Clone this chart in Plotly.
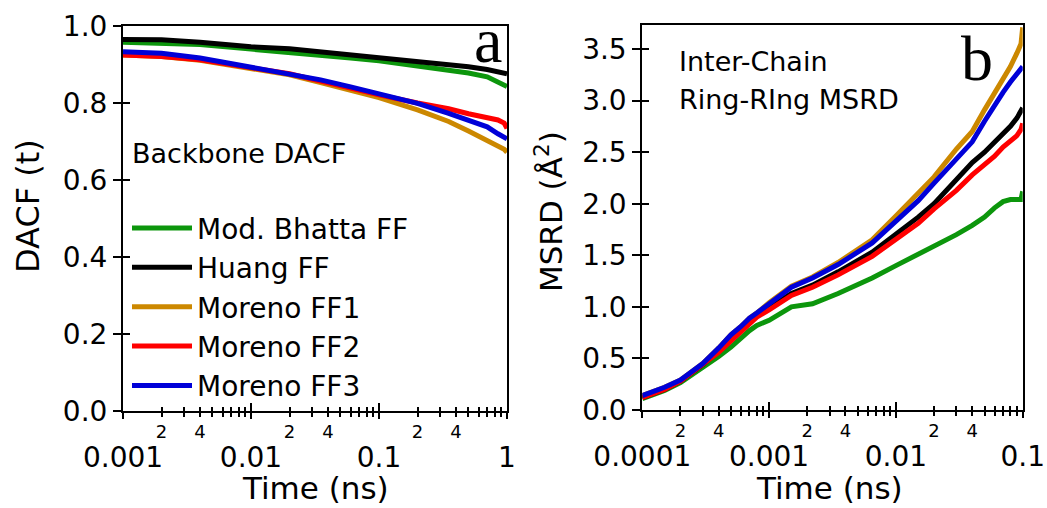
import plotly.graph_objects as go

# ---------------- data ----------------
series_names = ["Mod. Bhatta FF", "Huang FF", "Moreno FF1", "Moreno FF2", "Moreno FF3"]
series_colors = ["#0c960c", "#000000", "#cc8800", "#ff0000", "#0000d8"]

# Panel a: backbone DACF vs time (ns)
time_a = [0.001, 0.002, 0.004, 0.01, 0.02, 0.035, 0.06, 0.1, 0.2, 0.35, 0.5, 0.7, 0.85, 0.95, 1.0]
dacf_bhatta = [0.958, 0.956, 0.952, 0.940, 0.932, 0.925, 0.917, 0.910, 0.897, 0.887, 0.878, 0.868, 0.855, 0.848, 0.843]
dacf_huang  = [0.965, 0.964, 0.958, 0.946, 0.941, 0.933, 0.925, 0.918, 0.908, 0.900, 0.894, 0.887, 0.882, 0.879, 0.876]
dacf_ff1    = [0.925, 0.921, 0.911, 0.890, 0.873, 0.853, 0.832, 0.814, 0.782, 0.752, 0.727, 0.704, 0.689, 0.680, 0.672]
dacf_ff2    = [0.925, 0.921, 0.912, 0.892, 0.876, 0.857, 0.838, 0.821, 0.800, 0.785, 0.772, 0.760, 0.756, 0.748, 0.734]
dacf_ff3    = [0.933, 0.929, 0.917, 0.894, 0.877, 0.860, 0.842, 0.825, 0.799, 0.773, 0.755, 0.738, 0.720, 0.712, 0.707]

# Panel b: inter-chain ring-ring MSRD vs time (ns)
time_b = [1e-4, 1.5e-4, 2e-4, 3e-4, 4e-4, 5e-4, 6e-4, 7e-4, 8e-4, 1e-3, 1.5e-3, 2.2e-3, 3.5e-3,
          6.5e-3, 1e-2, 1.5e-2, 2e-2, 3e-2, 4e-2, 5e-2, 6e-2, 7e-2, 8e-2, 9e-2, 9.7e-2, 1e-1]
msrd_bhatta = [0.11, 0.19, 0.265, 0.41, 0.52, 0.61, 0.70, 0.77, 0.82, 0.87, 1.00, 1.03, 1.13,
               1.28, 1.40, 1.51, 1.585, 1.70, 1.79, 1.87, 1.96, 2.02, 2.04, 2.04, 2.04, 2.12]
msrd_huang  = [0.12, 0.20, 0.28, 0.44, 0.57, 0.69, 0.77, 0.85, 0.91, 0.99, 1.13, 1.21, 1.34,
               1.53, 1.70, 1.87, 2.00, 2.23, 2.40, 2.50, 2.60, 2.67, 2.75, 2.83, 2.90, 2.93]
msrd_ff1    = [0.14, 0.22, 0.29, 0.45, 0.60, 0.73, 0.81, 0.89, 0.94, 1.04, 1.20, 1.29, 1.43,
               1.65, 1.88, 2.11, 2.26, 2.53, 2.70, 2.91, 3.08, 3.20, 3.33, 3.46, 3.55, 3.71]
msrd_ff2    = [0.12, 0.20, 0.28, 0.44, 0.56, 0.67, 0.76, 0.85, 0.90, 0.97, 1.11, 1.19, 1.31,
               1.49, 1.66, 1.81, 1.95, 2.13, 2.28, 2.38, 2.46, 2.55, 2.61, 2.66, 2.72, 2.78]
msrd_ff3    = [0.14, 0.22, 0.29, 0.45, 0.60, 0.73, 0.81, 0.89, 0.94, 1.03, 1.19, 1.28, 1.41,
               1.62, 1.83, 2.03, 2.20, 2.44, 2.60, 2.80, 2.96, 3.08, 3.18, 3.25, 3.31, 3.33]

dacf_all = [dacf_bhatta, dacf_huang, dacf_ff1, dacf_ff2, dacf_ff3]
msrd_all = [msrd_bhatta, msrd_huang, msrd_ff1, msrd_ff2, msrd_ff3]

# tick labels
a_major = [0.001, 0.01, 0.1, 1]
a_major_text = ["0.001", "0.01", "0.1", "1"]
b_major = [0.0001, 0.001, 0.01, 0.1]
b_major_text = ["0.0001", "0.001", "0.01", "0.1"]
labelled_mult = [2, 4]
other_mult = [3, 5, 6, 7, 8, 9]
a_yticks = [0.0, 0.2, 0.4, 0.6, 0.8, 1.0]
a_ytext = ["0.0", "0.2", "0.4", "0.6", "0.8", "1.0"]
b_yticks = [0.0, 0.5, 1.0, 1.5, 2.0, 2.5, 3.0, 3.5]
b_ytext = ["0.0", "0.5", "1.0", "1.5", "2.0", "2.5", "3.0", "3.5"]


def minor_ticks(decades, mults):
    vals, txt = [], []
    for d in decades[:-1]:
        for m in mults:
            vals.append(d * m)
            txt.append(str(m))
    return vals, txt


a_lab, a_lab_text = minor_ticks(a_major, labelled_mult)
a_oth, _ = minor_ticks(a_major, other_mult)
b_lab, b_lab_text = minor_ticks(b_major, labelled_mult)
b_oth, _ = minor_ticks(b_major, other_mult)

# ---------------- figure ----------------
FONT = "DejaVu Sans"
LW = 5
fig = go.Figure()

for i, (name, col) in enumerate(zip(series_names, series_colors)):
    fig.add_trace(go.Scatter(x=time_a, y=dacf_all[i], mode="lines", name=name,
                             line=dict(color=col, width=LW), legendgroup=f"g{i}",
                             xaxis="x", yaxis="y"))
for i, (name, col) in enumerate(zip(series_names, series_colors)):
    fig.add_trace(go.Scatter(x=time_b, y=msrd_all[i], mode="lines", name=name,
                             line=dict(color=col, width=LW), legendgroup=f"g{i}",
                             showlegend=False, xaxis="x2", yaxis="y2"))
# empty traces so that the overlay (crossing-tick) axes get drawn
for xa, ya in [("x3", "y3"), ("x4", "y4"), ("x5", "y3"), ("x6", "y4")]:
    fig.add_trace(go.Scatter(x=[], y=[], xaxis=xa, yaxis=ya, showlegend=False,
                             hoverinfo="skip"))

xa_dom = [123 / 1047, 507 / 1047]
xb_dom = [642.3 / 1047, 1022.7 / 1047]
ya_dom = [1 - 411 / 508, 1 - 26 / 508]
yb_dom = [1 - 410 / 508, 1 - 25.3 / 508]

common_x = dict(type="log", showgrid=False, zeroline=False, showline=True, linecolor="black",
                linewidth=2, mirror=True, ticks="outside", ticklen=6, tickwidth=2,
                tickcolor="black", tickfont=dict(family=FONT, size=28, color="black"),
                ticklabelstandoff=14, automargin=False)
common_y = dict(showgrid=False, zeroline=False, showline=True, linecolor="black",
                linewidth=2, mirror=True, ticks="outside", ticklen=8, tickwidth=2,
                tickcolor="black", tickfont=dict(family=FONT, size=28, color="black"),
                automargin=False)

overlay_x = dict(type="log", showgrid=False, zeroline=False, showline=False,
                 ticks="inside", ticklen=4, tickwidth=1.5, tickcolor="black",
                 tickfont=dict(family=FONT, size=18, color="black"), automargin=False,
                 ticklabelstandoff=8)
overlay_y = dict(showgrid=False, zeroline=False, showline=False, ticks="inside",
                 ticklen=7, tickwidth=2, tickcolor="black", showticklabels=False,
                 automargin=False)
minor_out = dict(ticks="outside", ticklen=4, tickwidth=1.5, tickcolor="black")

fig.update_layout(
    width=1047, height=508, margin=dict(l=0, r=0, t=0, b=0),
    paper_bgcolor="white", plot_bgcolor="white",
    # panel a
    xaxis=dict(common_x, domain=xa_dom, anchor="y", range=[-3, 0],
               tickvals=a_major, ticktext=a_major_text,
               minor=dict(minor_out, tickmode="array", tickvals=a_lab + a_oth)),
    xaxis3=dict(overlay_x, overlaying="x", anchor="y", range=[-3, 0],
                tickvals=a_lab, ticktext=a_lab_text,
                minor=dict(tickmode="array", tickvals=a_oth, ticks="inside", ticklen=4,
                           tickwidth=1.5, tickcolor="black")),
    xaxis5=dict(overlay_x, overlaying="x", anchor="y", range=[-3, 0],
                tickvals=a_major, ticklen=8, tickwidth=2, showticklabels=False),
    yaxis=dict(common_y, domain=ya_dom, anchor="x", range=[0, 1],
               tickvals=a_yticks, ticktext=a_ytext),
    yaxis3=dict(overlay_y, overlaying="y", anchor="x", range=[0, 1], tickvals=a_yticks),
    # panel b
    xaxis2=dict(common_x, domain=xb_dom, anchor="y2", range=[-4, -1],
                tickvals=b_major, ticktext=b_major_text,
                minor=dict(minor_out, tickmode="array", tickvals=b_lab + b_oth)),
    xaxis4=dict(overlay_x, overlaying="x2", anchor="y2", range=[-4, -1],
                tickvals=b_lab, ticktext=b_lab_text,
                minor=dict(tickmode="array", tickvals=b_oth, ticks="inside", ticklen=4,
                           tickwidth=1.5, tickcolor="black")),
    xaxis6=dict(overlay_x, overlaying="x2", anchor="y2", range=[-4, -1],
                tickvals=b_major, ticklen=8, tickwidth=2, showticklabels=False),
    yaxis2=dict(common_y, domain=yb_dom, anchor="x2", range=[0, 3.73],
                tickvals=b_yticks, ticktext=b_ytext),
    yaxis4=dict(overlay_y, overlaying="y2", anchor="x2", range=[0, 3.73], tickvals=b_yticks),
    legend=dict(x=0.1213, y=0.60, xanchor="left", yanchor="top", bgcolor="rgba(0,0,0,0)",
                font=dict(family=FONT, size=28, color="black"), itemwidth=60,
                tracegroupgap=0),
    showlegend=True,
)

ann_font = dict(family=FONT, size=27, color="black")
title_font = dict(family=FONT, size=31, color="black")
# axis titles
fig.add_annotation(text="Time (ns)", xref="paper", yref="paper", x=315 / 1047, y=0.0,
                   xanchor="center", yanchor="bottom", showarrow=False, font=title_font)
fig.add_annotation(text="Time (ns)", xref="paper", yref="paper", x=829 / 1047, y=0.0,
                   xanchor="center", yanchor="bottom", showarrow=False, font=title_font)
fig.add_annotation(text="DACF (t)", xref="paper", yref="paper", x=28 / 1047, y=0.5945,
                   xanchor="center", yanchor="middle", textangle=-90, showarrow=False,
                   font=dict(title_font, size=32))
fig.add_annotation(text="MSRD (Å<sup>2</sup>)", xref="paper", yref="paper", x=549.6 / 1047,
                   y=0.5837, xanchor="center", yanchor="middle", textangle=-90,
                   showarrow=False, font=dict(title_font, size=31))
# panel texts
fig.add_annotation(text="Backbone DACF", xref="paper", yref="paper", x=130 / 1047, y=0.697,
                   xanchor="left", yanchor="middle", showarrow=False, font=ann_font)
fig.add_annotation(text="Inter-Chain", xref="paper", yref="paper", x=676.7 / 1047, y=0.879,
                   xanchor="left", yanchor="middle", showarrow=False, font=ann_font)
fig.add_annotation(text="Ring-RIng MSRD", xref="paper", yref="paper", x=676.7 / 1047, y=0.805,
                   xanchor="left", yanchor="middle", showarrow=False, font=ann_font)
serif = dict(family="Liberation Serif", size=64, color="black")
fig.add_annotation(text="a", xref="paper", yref="paper", x=487.5 / 1047, y=0.9197,
                   xanchor="center", yanchor="middle", showarrow=False, font=serif)
fig.add_annotation(text="b", xref="paper", yref="paper", x=977 / 1047, y=0.8839,
                   xanchor="center", yanchor="middle", showarrow=False, font=serif)

fig.write_html("out.html")
